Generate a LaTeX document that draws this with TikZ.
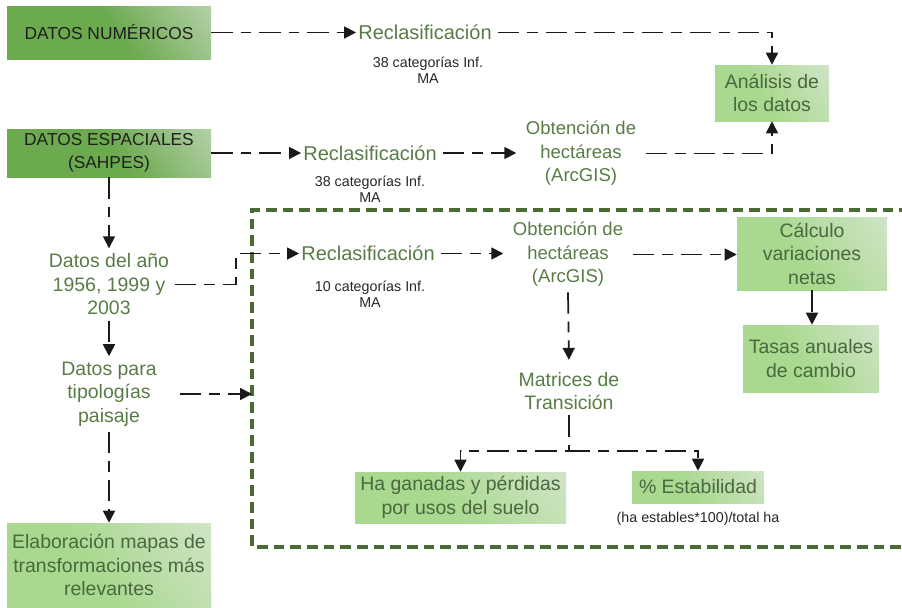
\documentclass[tikz,border=0pt]{standalone}
\usepackage{fontspec}
\setmainfont{Liberation Sans}
\usetikzlibrary{arrows.meta}
\definecolor{gtext}{HTML}{587C45}
\definecolor{btext}{HTML}{4A6840}
\definecolor{dkA}{HTML}{6BAA4E}
\definecolor{dkB}{HTML}{D6E2D2}
\definecolor{ltA}{HTML}{A9D98F}
\definecolor{ltB}{HTML}{DFE8DC}
\definecolor{bord}{HTML}{4A6B33}
\definecolor{lineC}{HTML}{1A1A1A}
\pgfdeclareverticalshading{shadeDark}{100bp}{color(0bp)=(dkA); color(52bp)=(dkA); color(100bp)=(dkB)}
\pgfdeclareverticalshading{shadeLite}{100bp}{color(0bp)=(ltA); color(45bp)=(ltA); color(100bp)=(ltB)}
\begin{document}
\begin{tikzpicture}[x=0.75pt,y=-0.75pt,
  darkbox/.style={inner sep=0pt, align=center, text=black!88,
    font=\fontsize{13}{17.25}\selectfont,
    shade, shading=shadeDark, shading angle=-55},
  litebox/.style={inner sep=0pt, align=center, text=btext,
    font=\fontsize{14.6}{17.6}\selectfont,
    shade, shading=shadeLite, shading angle=-55},
  rtext/.style={inner sep=1.5pt, text=gtext, font=\fontsize{15}{18}\selectfont},
  otext/.style={inner xsep=7pt, inner ysep=4pt, align=center, text=gtext, font=\fontsize{13.9}{17.6}\selectfont},
  gtxt/.style={inner sep=4pt, align=center, text=gtext, font=\fontsize{14.6}{17.6}\selectfont},
  stext/.style={inner sep=1pt, align=center, text=black!85, font=\fontsize{10.7}{12}\selectfont},
  conn/.style={draw=lineC, line width=1.3pt, dash pattern=on 16pt off 6pt on 8pt off 6pt,
    -{Triangle[length=9pt,width=9pt]}},
  border/.style={draw=bord, line width=2.5pt, dash pattern=on 8pt off 4.5pt}
]
\useasboundingbox (0,0) rectangle (902,607);

% boxes
\node[darkbox, minimum width=153pt, minimum height=39.75pt] (dn) at (109,32.5) {DATOS NUMÉRICOS};
\node[darkbox, minimum width=153pt, minimum height=36pt] (de) at (109,153) {DATOS ESPACIALES\\(SAHPES)};
\node[litebox, minimum width=85.5pt, minimum height=42pt] (an) at (772,93) {Análisis de\\los datos};
\node[litebox, minimum width=112.5pt, minimum height=54.75pt] (calc) at (812,253.5) {Cálculo\\variaciones\\netas};
\node[litebox, minimum width=102pt, minimum height=50.25pt] (tas) at (811,358.5) {Tasas anuales\\de cambio};
\node[litebox, minimum width=158.25pt, minimum height=38.25pt] (ha) at (460.5,497.5) {Ha ganadas y pérdidas\\por usos del suelo};
\node[litebox, minimum width=99pt, minimum height=24pt] (est) at (698,487) {\% Estabilidad};
\node[litebox, minimum width=153pt, minimum height=63pt] (elab) at (109,565) {Elaboración mapas de\\transformaciones más\\relevantes};

% text nodes
\node[rtext] (rc1) at (425,32.5) {Reclasificación};
\node[stext] (c1) at (428,70) {38 categorías Inf.\\MA};
\node[rtext] (rc2) at (370,153) {Reclasificación};
\node[stext] (c2) at (370,189.5) {38 categorías Inf.\\MA};
\node[otext] (ob1) at (581,153.5) {Obtención de\\hectáreas\\(ArcGIS)};
\node[gtxt] (da) at (109,284.5) {Datos del año\\1956, 1999 y\\2003};
\node[rtext] (rc3) at (368,253.5) {Reclasificación};
\node[stext] (c3) at (370,294.5) {10 categorías Inf.\\MA};
\node[otext] (ob2) at (568,254.5) {Obtención de\\hectáreas\\(ArcGIS)};
\node[gtxt] (mt) at (569,391) {Matrices de\\Transición};
\node[gtxt] (dp) at (109,394) {Datos para\\tipologías\\paisaje};
\node[stext] (form) at (698,519) {(ha estables*100)/total ha};

% dashed frame (open on the right)
\coordinate (bTL) at (252,210);
\coordinate (bBL) at (252,547);
\coordinate (bTR) at (910,210);
\coordinate (bBR) at (910,547);
\draw[border] (bTR) -- (bTL) -- (bBL) -- (bBR);

% connectors
\draw[conn] (dn.east) -- (dn.east -| rc1.west);
\draw[conn, shorten <=3pt] (rc1.east) -| (an.north);
\draw[conn] (de.east) -- (de.east -| rc2.west);
\draw[conn, shorten <=3pt] (rc2.east) -- (rc2.east -| ob1.west);
\draw[conn] (ob1.east) -| (an.south);
\draw[conn] (de.south) -- (da.north);
\coordinate (k1) at (236,285);
\draw[conn] (da.east) -- (da.east -| k1) |- (rc3.west);
\draw[conn, shorten <=3pt] (rc3.east) -- (rc3.east -| ob2.west);
\draw[conn] (ob2.east) -- (ob2.east -| calc.west);
\draw[conn] (calc.south) -- (calc.south |- tas.north);
\draw[conn, shorten >=5pt] (ob2.south) -- (mt.north);
\coordinate (sp) at (569,451);
\draw[conn] (mt.south) -- (sp) -| (ha.north);
\draw[conn] (sp) -| (est.north);
\draw[conn] (da.south) -- (dp.north);
\draw[conn, shorten <=13pt] (dp.east) -- (dp.east -| bTL);
\draw[conn] (dp.south) -- (elab.north);
\end{tikzpicture}
\end{document}
